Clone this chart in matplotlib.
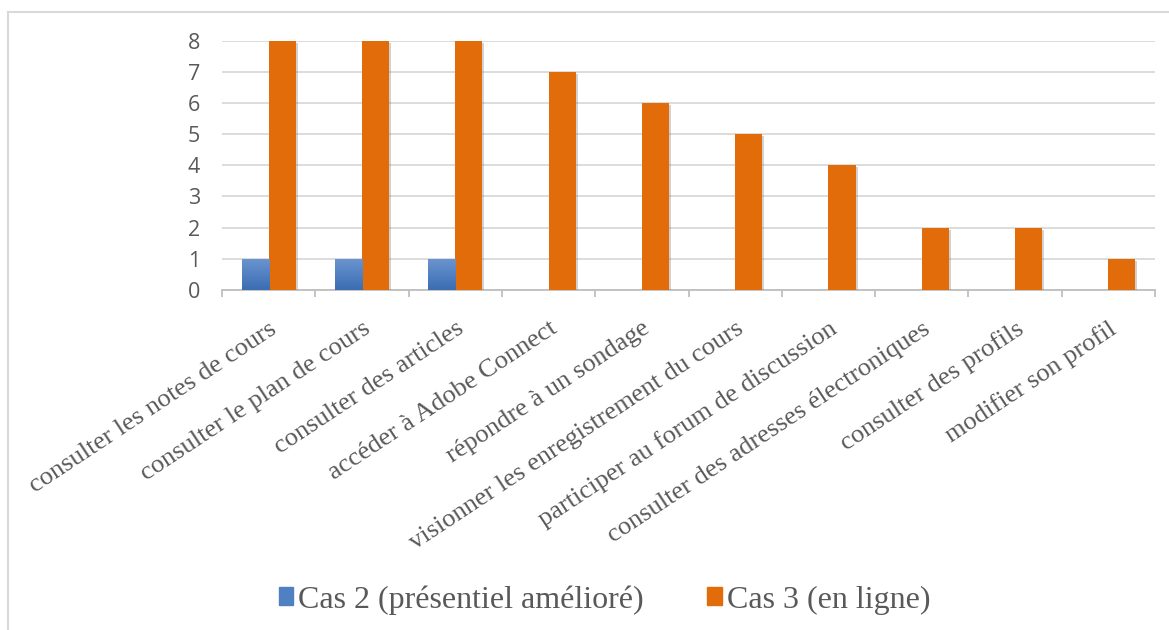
import numpy as np
import matplotlib
matplotlib.use('Agg')
import matplotlib.pyplot as plt
import matplotlib.patheffects as pe
from matplotlib.patches import Rectangle
from matplotlib.lines import Line2D
from matplotlib.colors import LinearSegmentedColormap

# usages de la plateforme
categories = ['consulter les notes de cours', 'consulter le plan de cours',
              'consulter des articles', 'accéder à Adobe Connect',
              'répondre à un sondage', 'visionner les enregistrement du cours',
              'participer au forum de discussion',
              'consulter des adresses électroniques', 'consulter des profils',
              'modifier son profil']
cas2 = [1, 1, 1, 0, 0, 0, 0, 0, 0, 0]
cas3 = [8, 8, 8, 7, 6, 5, 4, 2, 2, 1]
yticks = [0, 1, 2, 3, 4, 5, 6, 7, 8]

blue_top = '#6b95d0'
blue_bot = '#3b6db3'
orange = '#e36c0a'
serif = ['Liberation Serif', 'DejaVu Serif']

fig = plt.figure(figsize=(11.69, 6.3), dpi=100)
ax = fig.add_axes([0.19, 0.54, 0.798, 0.395])

x = np.arange(len(categories))
w = 0.29
shadow = [pe.SimplePatchShadow(offset=(1.5, -1.5), shadow_rgbFace='#808080', alpha=0.35), pe.Normal()]

bars2 = ax.bar(x - w / 2, cas2, w, color=blue_bot, zorder=3, path_effects=shadow)
bars3 = ax.bar(x + w / 2, cas3, w, color=orange, zorder=3, path_effects=shadow)

# dégradé vertical sur les barres bleues
grad = np.linspace(1, 0, 100).reshape(-1, 1)
cmap = LinearSegmentedColormap.from_list('bl', [blue_bot, blue_top])
for b in bars2:
    if b.get_height() <= 0:
        continue
    x0, y0 = b.get_x(), b.get_y()
    im = ax.imshow(grad, cmap=cmap, aspect='auto', zorder=4,
                   extent=[x0, x0 + b.get_width(), y0, y0 + b.get_height()])
    im.set_clip_path(b)

ax.set_xlim(-0.5, len(categories) - 0.5)
ax.set_ylim(0, 8)
ax.set_yticks(yticks)
ax.yaxis.grid(True, color='#d9d9d9', linewidth=1.3, zorder=0)
ax.set_axisbelow(True)
for s in ['top', 'right', 'left']:
    ax.spines[s].set_visible(False)
ax.spines['bottom'].set_color('#bfbfbf')
ax.spines['bottom'].set_linewidth(1.3)
ax.spines['bottom'].set_zorder(2)

ax.tick_params(axis='y', length=0, pad=16, labelsize=15.5, labelcolor='#595959')
for t in ax.get_yticklabels():
    t.set_family(['Open Sans', 'DejaVu Sans'])

ax.set_xticks(x)
ax.set_xticks(np.arange(len(categories) + 1) - 0.5, minor=True)
ax.tick_params(axis='x', which='minor', length=5, width=1.3, color='#bfbfbf')
ax.tick_params(axis='x', which='major', length=0, pad=20)
ax.set_xticklabels(categories, rotation=33.5, ha='right', rotation_mode='anchor',
                   fontsize=19, color='#595959', family=serif)

# cadre du graphique
fig.add_artist(Line2D([8 / 1169, 8 / 1169], [0, 1 - 12 / 630], color='#d9d9d9', lw=1.5,
                      transform=fig.transFigure))
fig.add_artist(Line2D([8 / 1169, 1], [1 - 12 / 630, 1 - 12 / 630], color='#d9d9d9', lw=1.5,
                      transform=fig.transFigure))

handles = [Rectangle((0, 0), 1, 1, color='#4f80c2'), Rectangle((0, 0), 1, 1, color=orange)]
leg = fig.legend(handles, ['Cas 2 (présentiel amélioré)', 'Cas 3 (en ligne)'],
                 loc='center', bbox_to_anchor=(0.517, 0.048), ncol=2, frameon=False,
                 prop={'family': serif, 'size': 23}, handlelength=0.45, handleheight=0.5,
                 handletextpad=0.15, columnspacing=2.0)
for t in leg.get_texts():
    t.set_color('#595959')

fig.savefig('out.png', dpi=100, facecolor='white')
